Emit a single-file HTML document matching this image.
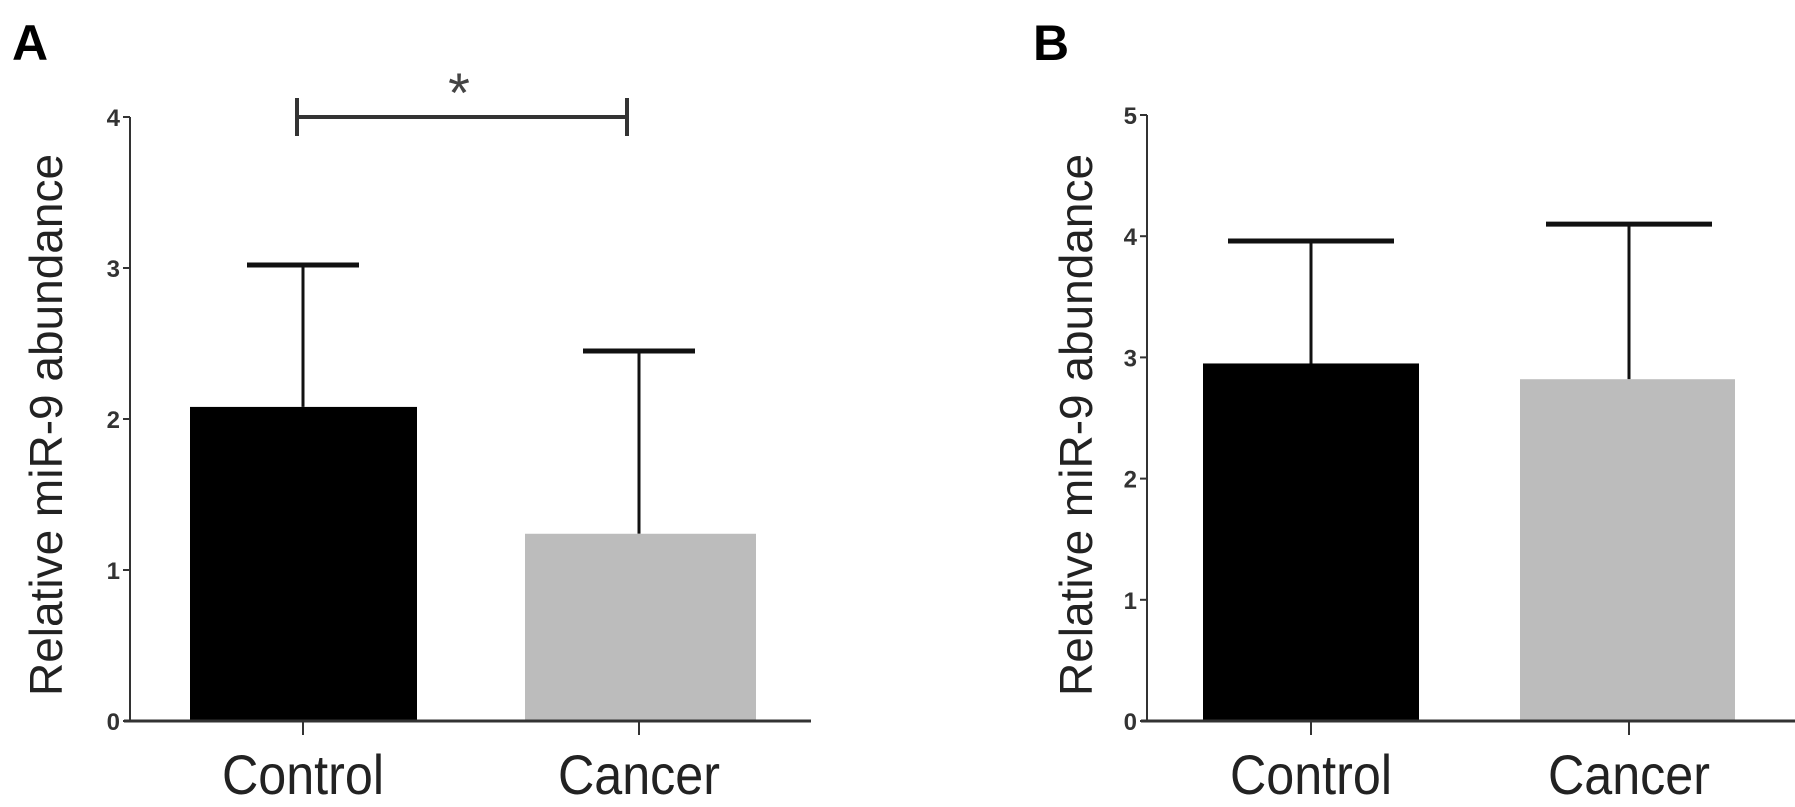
<!DOCTYPE html>
<html><head><meta charset="utf-8"><style>
html,body{margin:0;padding:0;background:#fff;}
svg{display:block;font-family:"Liberation Sans",sans-serif;}
</style></head><body>
<svg id="chart" width="1795" height="807" viewBox="0 0 1795 807"></svg>
<script>
const categories = ["Control", "Cancer"];
const meansA = [2.08, 1.24];
const errorsA = [3.02, 2.45];
const meansB = [2.95, 2.82];
const errorsB = [3.96, 4.10];
const ticksA = [0, 1, 2, 3, 4];
const ticksB = [0, 1, 2, 3, 4, 5];
const colors = ["#000000", "#bcbcbc"];

const NS = "http://www.w3.org/2000/svg";
const svg = document.getElementById("chart");
function mk(tag, attrs, parent) {
  const e = document.createElementNS(NS, tag);
  for (const k in attrs) e.setAttribute(k, attrs[k]);
  (parent || svg).appendChild(e);
  return e;
}

function panel(cfg) {
  const g = mk("g", {});
  
  
  const y = v => cfg.y0 - (v / cfg.ymax) * (cfg.y0 - cfg.ytop);
  const L = mk("text", {x: cfg.letterX, y: 60, "font-size": 50, "font-weight": "bold", fill: "#000"}, g);
  L.textContent = cfg.letter;
  
  
  const t = mk("text", {x: 0, y: 0, "font-size": 46, fill: "#222", "text-anchor": "middle",
    transform: `translate(${cfg.titleX},${cfg.titleY}) rotate(-90)`}, g);
  t.textContent = "Relative miR-9 abundance";
  
  
  categories.forEach((c, i) => {
    const [x1, x2] = cfg.bars[i];
    const cx = cfg.centers[i];
    const eb = mk("line", {x1: cx, x2: cx, y1: y(cfg.means[i]), y2: y(cfg.errs[i]), stroke: "#111", "stroke-width": 3}, g);
    
    
    const cap = mk("line", {x1: cx - cfg.cap, x2: cx + cfg.cap, y1: y(cfg.errs[i]), y2: y(cfg.errs[i]), stroke: "#111", "stroke-width": 5}, g);
    
    
    const r = mk("rect", {x: x1, width: x2 - x1, y: y(cfg.means[i]), height: cfg.y0 - y(cfg.means[i]), fill: colors[i]}, g);
    
    
    const tk = mk("line", {x1: cx, x2: cx, y1: cfg.y0, y2: cfg.y0 + 14, stroke: "#333", "stroke-width": 2}, g);
    
    
    const lb = mk("text", {x: cx, y: 794, "font-size": 56, fill: "#222", "text-anchor": "middle", textLength: 162, lengthAdjust: "spacingAndGlyphs"}, g);
    lb.textContent = c;
    
    
  });
  const ya = mk("line", {x1: cfg.ax, x2: cfg.ax, y1: cfg.ytop, y2: cfg.y0, stroke: "#333", "stroke-width": 2}, g);
  
  
  const xa = mk("line", {x1: cfg.ax - 6, x2: cfg.xend, y1: cfg.y0, y2: cfg.y0, stroke: "#333", "stroke-width": 3}, g);
  
  
  cfg.ticks.forEach(v => {
    const tk = mk("line", {x1: cfg.ax - 7, x2: cfg.ax, y1: y(v), y2: y(v), stroke: "#333", "stroke-width": 2}, g);
    
    
    const tl = mk("text", {x: cfg.ax - 10, y: y(v) + 9, "font-size": 24, "font-weight": "bold", fill: "#333", "text-anchor": "end"}, g);
    tl.textContent = v;
    
    
  });
  return y;
}

const yA = panel({name: "panel-a", letter: "A", letterX: 12, titleX: 62, titleY: 425,
  y0: 721, ytop: 117, ymax: 4, ax: 130, xend: 811,
  bars: [[190, 417], [525, 756]], centers: [303, 639], cap: 56,
  means: meansA, errs: errorsA, ticks: ticksA});
panel({name: "panel-b", letter: "B", letterX: 1033, titleX: 1092, titleY: 425,
  y0: 721, ytop: 115, ymax: 5, ax: 1147, xend: 1795,
  bars: [[1203, 1419], [1520, 1735]], centers: [1311, 1629], cap: 83,
  means: meansB, errs: errorsB, ticks: ticksB});

const sy = yA(4);
const br = mk("path", {d: `M297 ${sy-19} V${sy+19} M297 ${sy} H627 M627 ${sy-19} V${sy+19}`, stroke: "#333", "stroke-width": 4, fill: "none"});


const st = mk("text", {x: 459, y: 112, "font-size": 56, fill: "#444", "text-anchor": "middle"});
st.textContent = "*";


</script>
</body></html>
